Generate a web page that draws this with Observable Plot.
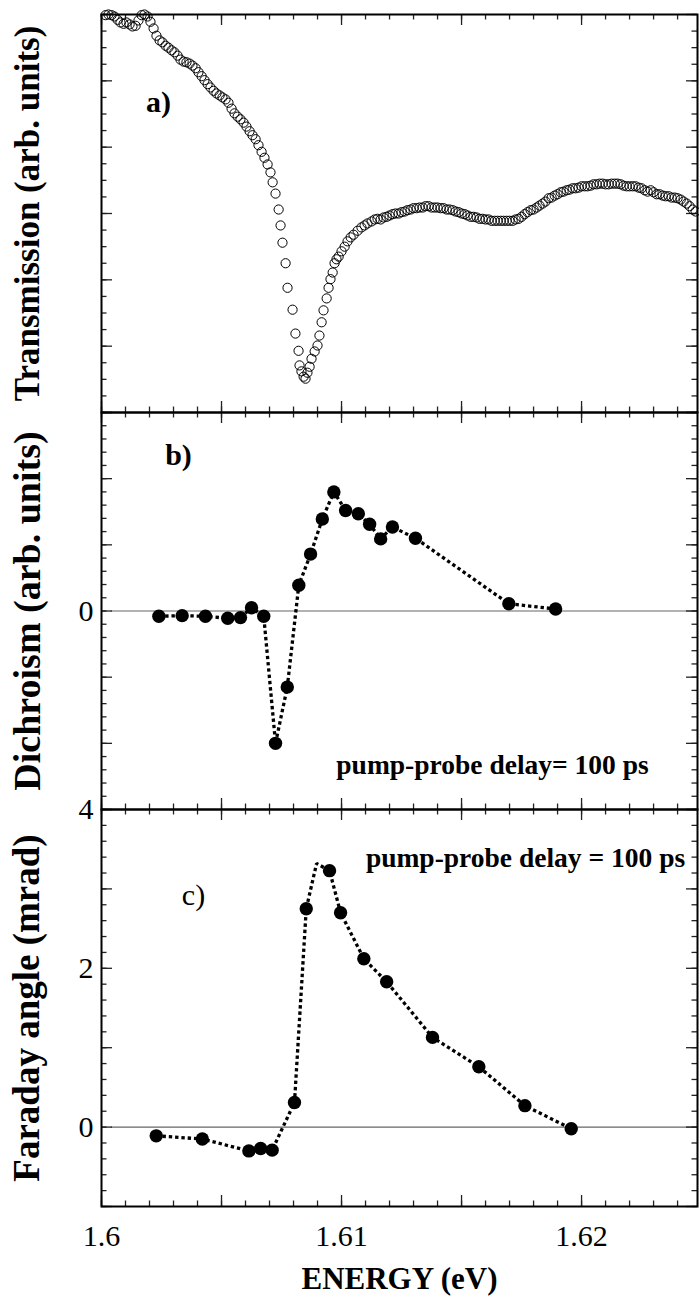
<!DOCTYPE html>
<html><head><meta charset="utf-8">
<script src="https://cdn.jsdelivr.net/npm/d3@7"></script>
<script src="https://cdn.jsdelivr.net/npm/@observablehq/plot@0.6"></script>
<style>
html,body{margin:0;padding:0;background:#fff;}
#chart svg{display:block;overflow:visible;}
#chart svg text{font-family:"Liberation Serif","Times New Roman",Times,serif;}
</style></head><body><div id="chart"></div>
<script>
// ---------------- data ----------------
// a) transmission (arb. units) vs energy (eV)
const transEnergy = [1.60017,1.60029,1.60042,1.60054,1.60067,1.60079,1.60092,1.60104,1.60117,1.60129,1.60142,1.60154,1.60167,1.60179,1.60192,1.60204,1.60217,1.60229,1.60242,1.60254,1.60267,1.60279,1.60292,1.60304,1.60317,1.60329,1.60342,1.60354,1.60367,1.60379,1.60392,1.60404,1.60417,1.60429,1.60442,1.60454,1.60467,1.60479,1.60492,1.60504,1.60517,1.60529,1.60542,1.60554,1.60567,1.60579,1.60592,1.60604,1.60617,1.60629,1.60642,1.60654,1.60667,1.60679,1.60692,1.60704,1.60713,1.60725,1.60738,1.60746,1.60754,1.60767,1.60775,1.60796,1.60808,1.60821,1.60825,1.60833,1.60842,1.60850,1.60858,1.60867,1.60875,1.60888,1.60900,1.60908,1.60917,1.60925,1.60938,1.60946,1.60954,1.60963,1.60971,1.60979,1.60988,1.61000,1.61013,1.61025,1.61038,1.61050,1.61067,1.61083,1.61096,1.61108,1.61125,1.61138,1.61150,1.61163,1.61175,1.61188,1.61200,1.61213,1.61225,1.61238,1.61250,1.61263,1.61275,1.61288,1.61300,1.61313,1.61325,1.61338,1.61350,1.61363,1.61375,1.61388,1.61400,1.61413,1.61425,1.61438,1.61450,1.61463,1.61475,1.61488,1.61500,1.61513,1.61525,1.61538,1.61550,1.61563,1.61575,1.61588,1.61600,1.61613,1.61625,1.61638,1.61650,1.61663,1.61675,1.61688,1.61700,1.61713,1.61725,1.61738,1.61750,1.61763,1.61775,1.61788,1.61800,1.61813,1.61825,1.61838,1.61850,1.61863,1.61875,1.61888,1.61900,1.61913,1.61925,1.61938,1.61950,1.61963,1.61975,1.61988,1.62000,1.62013,1.62025,1.62038,1.62050,1.62063,1.62075,1.62088,1.62100,1.62113,1.62125,1.62138,1.62150,1.62163,1.62175,1.62188,1.62200,1.62213,1.62225,1.62238,1.62250,1.62263,1.62275,1.62288,1.62300,1.62313,1.62325,1.62338,1.62350,1.62363,1.62375,1.62388,1.62400,1.62413,1.62425,1.62438,1.62450,1.62463,1.62475];
const transValue = [5.99,6.00,5.99,5.97,5.92,5.88,5.86,5.88,5.85,5.82,5.83,5.91,5.99,6.00,5.97,5.89,5.79,5.68,5.61,5.58,5.53,5.50,5.46,5.43,5.38,5.32,5.29,5.28,5.26,5.23,5.19,5.13,5.07,5.01,4.95,4.90,4.85,4.81,4.78,4.75,4.72,4.67,4.58,4.51,4.46,4.42,4.37,4.31,4.24,4.18,4.12,4.03,3.93,3.84,3.74,3.62,3.47,3.30,3.06,2.82,2.56,2.25,1.88,1.55,1.19,0.93,0.71,0.62,0.54,0.51,0.60,0.69,0.81,0.92,1.01,1.16,1.36,1.54,1.72,1.88,2.01,2.11,2.25,2.31,2.35,2.43,2.50,2.58,2.64,2.68,2.74,2.79,2.82,2.85,2.88,2.91,2.92,2.91,2.94,2.95,2.97,2.99,3.00,3.00,3.02,3.03,3.05,3.06,3.08,3.08,3.09,3.09,3.11,3.11,3.09,3.09,3.09,3.08,3.08,3.06,3.06,3.05,3.03,3.02,3.00,2.99,2.97,2.95,2.95,2.94,2.92,2.92,2.91,2.91,2.89,2.89,2.89,2.89,2.89,2.89,2.89,2.89,2.91,2.92,2.95,2.99,3.02,3.05,3.06,3.09,3.12,3.15,3.18,3.23,3.24,3.27,3.29,3.32,3.33,3.35,3.36,3.38,3.38,3.39,3.41,3.41,3.41,3.42,3.44,3.44,3.45,3.45,3.44,3.44,3.45,3.45,3.45,3.44,3.42,3.41,3.41,3.41,3.41,3.39,3.38,3.35,3.33,3.35,3.32,3.29,3.29,3.27,3.26,3.26,3.24,3.24,3.23,3.21,3.18,3.15,3.11,3.06,3.03];

// b) dichroism (arb. units), pump-probe delay 100 ps
const dichEnergy = [1.60239,1.60336,1.60433,1.60526,1.60579,1.60625,1.60676,1.60725,1.60774,1.60822,1.60871,1.60920,1.60968,1.61017,1.61070,1.61117,1.61163,1.61212,1.61308,1.61697,1.61892];
const dichValue  = [-0.08,-0.07,-0.08,-0.11,-0.10,0.05,-0.08,-2.00,-1.15,0.39,0.86,1.39,1.80,1.52,1.47,1.31,1.09,1.27,1.10,0.11,0.03];

// c) Faraday angle (mrad), pump-probe delay 100 ps
const farEnergy = [1.60228,1.60420,1.60614,1.60663,1.60711,1.60804,1.60853,1.60950,1.60996,1.61093,1.61188,1.61379,1.61572,1.61764,1.61957];
const farValue  = [-0.11,-0.15,-0.30,-0.27,-0.29,0.31,2.75,3.23,2.70,2.12,1.83,1.13,0.76,0.27,-0.02];
// vertex of the dotted curve drawn without a marker
const farPeakEnergy = 1.60896;
const farPeakValue = 3.32;

// axes / ticks
const xDomain = [1.6, 1.62483];
const xMajorTicks = [1.600, 1.605, 1.610, 1.615, 1.620];
const xMinorTicks = d3.range(0, 25).map(i => 1.6 + i * 0.001);
const xTickLabels = [1.6, 1.61, 1.62];
const xTickText = ["1.6", "1.61", "1.62"];

const aDomain = [0, 6];
const aMajor = [0, 1, 2, 3, 4, 5, 6];
const aMinor = d3.range(0, 25).map(i => i * 0.25);

const bDomain = [-3, 3];
const bMajor = [-3, -2, -1, 0, 1, 2, 3];
const bMinor = d3.range(-15, 16).map(i => i * 0.2);
const bLabels = [0];

const cDomain = [-1, 4];
const cMajor = [-1, 0, 1, 2, 3, 4];
const cMinor = d3.range(-5, 21).map(i => i * 0.2);
const cLabels = [0, 2, 4];

const zeroLineStart = 1.6004;

const labelA = "Transmission (arb. units)";
const labelB = "Dichroism (arb. units)";
const labelC = "Faraday angle (mrad)";
const labelX = "ENERGY (eV)";
const noteB = "pump-probe delay= 100 ps";
const noteC = "pump-probe delay = 100 ps";

// ---------------- drawing ----------------
const W = 699, ML = 101, MR = 2, FW = W - ML - MR;
const FONT = "Liberation Serif";
const TICKC = "#222";

function frameTicks(H, yMajor, yMinor) {
  const lMaj = 11, lMin = 5.5, s = {stroke: TICKC, strokeWidth: 1.3};
  return [
    Plot.tickX(xMinorTicks, {x: d => d, insetTop: H - lMin, ...s}),
    Plot.tickX(xMinorTicks, {x: d => d, insetBottom: H - lMin, ...s}),
    Plot.tickX(xMajorTicks, {x: d => d, insetTop: H - lMaj, ...s}),
    Plot.tickX(xMajorTicks, {x: d => d, insetBottom: H - lMaj, ...s}),
    Plot.tickY(yMinor, {y: d => d, insetRight: FW - lMin, ...s}),
    Plot.tickY(yMinor, {y: d => d, insetLeft: FW - lMin, ...s}),
    Plot.tickY(yMajor, {y: d => d, insetRight: FW - lMaj, ...s}),
    Plot.tickY(yMajor, {y: d => d, insetLeft: FW - lMaj, ...s}),
    Plot.frame({stroke: "black", strokeWidth: 2})
  ];
}

function yTitle(t, size) {
  return Plot.text([t], {text: d => d, frameAnchor: "left", dx: -74, rotate: -90,
    fontSize: size, fontWeight: "bold", fontFamily: FONT, fill: "black", textAnchor: "middle", lineAnchor: "middle"});
}

const dotted = {stroke: "black", strokeWidth: 3.3, strokeDasharray: "3.4,2.9", strokeLinecap: "butt", strokeLinejoin: "miter"};

const chart = document.getElementById("chart");
const baseStyle = {overflow: "visible", background: "white", color: "black"};

// panel a
const HA = 398;
const pa = Plot.plot({
  width: W, height: HA + 14, marginTop: 14, marginBottom: 0, marginLeft: ML, marginRight: MR,
  style: baseStyle,
  x: {domain: xDomain, axis: null},
  y: {domain: aDomain, axis: null},
  marks: [
    ...frameTicks(HA, aMajor, aMinor),
    Plot.dot(transEnergy.map((e, i) => i), {x: i => transEnergy[i], y: i => transValue[i],
      r: 4.6, stroke: "black", strokeWidth: 1, fill: "none"}),
    Plot.text(["a)"], {text: d => d, frameAnchor: "top-left", dx: 57, dy: 88,
      fontSize: 30, fontWeight: "bold", fontFamily: FONT, textAnchor: "middle", lineAnchor: "middle"}),
    yTitle(labelA, 35)
  ]
});
chart.appendChild(pa);

// panel b
const HB = 397;
const pb = Plot.plot({
  width: W, height: HB, marginTop: 0, marginBottom: 0, marginLeft: ML, marginRight: MR,
  style: baseStyle,
  x: {domain: xDomain, axis: null},
  y: {domain: bDomain, axis: null},
  marks: [
    Plot.ruleY([0], {x1: zeroLineStart, x2: xDomain[1], stroke: "#666", strokeWidth: 1.1}),
    ...frameTicks(HB, bMajor, bMinor),
    Plot.line(dichEnergy.map((e, i) => i), {x: i => dichEnergy[i], y: i => dichValue[i], ...dotted}),
    Plot.dot(dichEnergy.map((e, i) => i), {x: i => dichEnergy[i], y: i => dichValue[i],
      r: 6.7, fill: "black", stroke: "none"}),
    Plot.text(bLabels, {y: d => d, text: d => String(d), frameAnchor: "left", dx: -8,
      textAnchor: "end", lineAnchor: "middle", fontSize: 30, fontFamily: FONT}),
    Plot.text(["b)"], {text: d => d, frameAnchor: "top-left", dx: 77, dy: 43,
      fontSize: 30, fontWeight: "bold", fontFamily: FONT, textAnchor: "middle", lineAnchor: "middle"}),
    Plot.text([noteB], {text: d => d, frameAnchor: "top-left", dx: 391, dy: 353,
      fontSize: 27.5, fontWeight: "bold", fontFamily: FONT, textAnchor: "middle", lineAnchor: "middle"}),
    yTitle(labelB, 38)
  ]
});
chart.appendChild(pb);

// panel c
const HC = 397;
const farLine = farEnergy.map((e, i) => ({e, v: farValue[i]}))
  .concat([{e: farPeakEnergy, v: farPeakValue}])
  .sort((a, b) => a.e - b.e);
const pc = Plot.plot({
  width: W, height: HC + 90, marginTop: 0, marginBottom: 90, marginLeft: ML, marginRight: MR,
  style: baseStyle,
  x: {domain: xDomain, axis: null},
  y: {domain: cDomain, axis: null},
  marks: [
    Plot.ruleY([0], {x1: zeroLineStart, x2: xDomain[1], stroke: "#666", strokeWidth: 1.1}),
    ...frameTicks(HC, cMajor, cMinor),
    Plot.line(farLine, {x: "e", y: "v", ...dotted}),
    Plot.dot(farEnergy.map((e, i) => i), {x: i => farEnergy[i], y: i => farValue[i],
      r: 6.7, fill: "black", stroke: "none"}),
    Plot.text(cLabels, {y: d => d, text: d => String(d), frameAnchor: "left", dx: -8,
      textAnchor: "end", lineAnchor: "middle", fontSize: 30, fontFamily: FONT}),
    Plot.text(xTickLabels, {x: d => d, text: (d, i) => xTickText[i], frameAnchor: "bottom", dy: 30,
      textAnchor: "middle", lineAnchor: "middle", fontSize: 30, fontFamily: FONT}),
    Plot.text([labelX], {text: d => d, frameAnchor: "bottom", dy: 73,
      fontSize: 31, fontWeight: "bold", fontFamily: FONT, textAnchor: "middle", lineAnchor: "middle"}),
    Plot.text(["c)"], {text: d => d, frameAnchor: "top-left", dx: 92, dy: 86,
      fontSize: 30, fontFamily: FONT, textAnchor: "middle", lineAnchor: "middle"}),
    Plot.text([noteC], {text: d => d, frameAnchor: "top-left", dx: 424, dy: 49,
      fontSize: 27.5, fontWeight: "bold", fontFamily: FONT, textAnchor: "middle", lineAnchor: "middle"}),
    yTitle(labelC, 37)
  ]
});
chart.appendChild(pc);
</script>
</body></html>
